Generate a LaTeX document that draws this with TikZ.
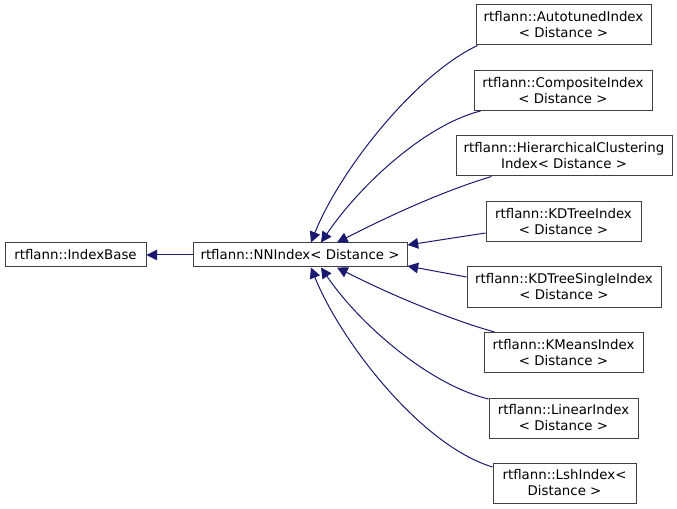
\documentclass[tikz,border=0pt]{standalone}
\usepackage{fontspec}
\setmainfont{DejaVu Sans}
\usetikzlibrary{arrows.meta}
\definecolor{edgeblue}{HTML}{191970}
\definecolor{boxline}{HTML}{404040}
\begin{document}
\begin{tikzpicture}[x=0.75pt,y=-0.75pt,
  cls/.style={draw=boxline,line width=0.75pt,fill=white,inner sep=0pt,align=center,font=\fontsize{10}{12}\selectfont},
  inh/.style={draw=edgeblue,line width=0.75pt,{Triangle[length=8pt,width=8pt,fill=edgeblue]}-}]
\useasboundingbox (0,0) rectangle (677,509);
\node[cls,minimum width=141*0.75pt,minimum height=24*0.75pt] (base) at (75.5,255) {rtflann::IndexBase};
\node[cls,minimum width=214*0.75pt,minimum height=24*0.75pt] (nn) at (300,255) {rtflann::NNIndex< Distance >};
\node[cls,minimum width=175*0.75pt,minimum height=40*0.75pt] (auto) at (563.5,25) {rtflann::AutotunedIndex\\< Distance >};
\node[cls,minimum width=178*0.75pt,minimum height=40*0.75pt] (comp) at (563,90.5) {rtflann::CompositeIndex\\< Distance >};
\node[cls,minimum width=216*0.75pt,minimum height=40*0.75pt] (hier) at (564,156) {rtflann::HierarchicalClustering\\Index< Distance >};
\node[cls,minimum width=155*0.75pt,minimum height=40*0.75pt] (kdt) at (563.5,222) {rtflann::KDTreeIndex\\< Distance >};
\node[cls,minimum width=194*0.75pt,minimum height=40*0.75pt] (kds) at (564,287) {rtflann::KDTreeSingleIndex\\< Distance >};
\node[cls,minimum width=159*0.75pt,minimum height=40*0.75pt] (km) at (563.5,352.5) {rtflann::KMeansIndex\\< Distance >};
\node[cls,minimum width=149*0.75pt,minimum height=40*0.75pt] (lin) at (563.5,418) {rtflann::LinearIndex\\< Distance >};
\node[cls,minimum width=143*0.75pt,minimum height=40*0.75pt] (lsh) at (564.5,483) {rtflann::LshIndex<\\Distance >};

\draw[inh] (base.east) -- (nn.west);
\draw[inh] ([xshift=11*0.75pt]nn.north) .. controls (340,170) and (415,75) .. ([xshift=2*0.75pt]auto.south west);
\draw[inh] ([xshift=21*0.75pt]nn.north) .. controls (360,185) and (425,125) .. ([xshift=7*0.75pt]comp.south west);
\draw[inh] ([xshift=37*0.75pt]nn.north) .. controls (385,218) and (440,192) .. ([xshift=36*0.75pt]hier.south west);
\draw[inh] ([yshift=10*0.75pt]nn.east) -- ([yshift=-11*0.75pt]kdt.west);
\draw[inh] ([yshift=-11*0.75pt]nn.east) -- ([yshift=10*0.75pt]kds.west);
\draw[inh] ([xshift=37*0.75pt]nn.south) .. controls (385,292) and (445,318) .. ([xshift=11*0.75pt]km.north west);
\draw[inh] ([xshift=21*0.75pt]nn.south) .. controls (360,325) and (430,385) .. ([yshift=19*0.75pt]lin.west);
\draw[inh] ([xshift=11*0.75pt]nn.south) .. controls (340,340) and (420,445) .. ([yshift=16*0.75pt]lsh.west);
\end{tikzpicture}
\end{document}
